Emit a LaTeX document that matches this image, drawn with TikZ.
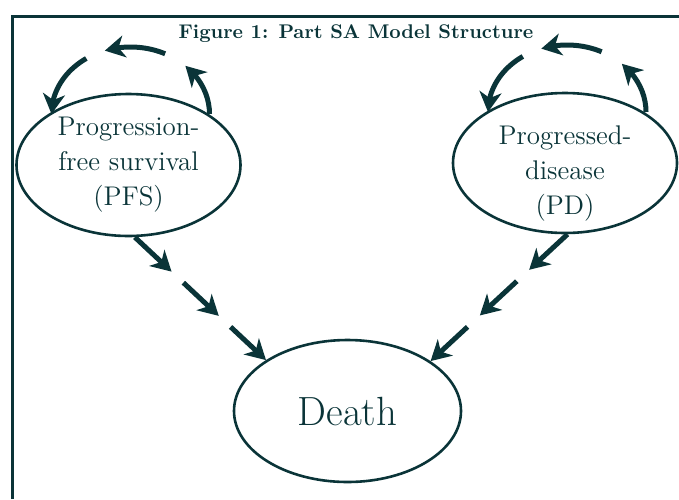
\documentclass[tikz,border=0pt]{standalone}
\usepackage{xcolor}
\usepackage{tikz}
\usetikzlibrary{shapes.geometric, arrows.meta, bending, calc}
\definecolor{ink}{HTML}{0A3438}
\tikzset{
    statebox/.style={ellipse, draw=ink, line width=1.3pt, inner sep=0pt,
                     text=ink, align=center,
                     font=\fontsize{13.5}{17.5}\selectfont},
    titletext/.style={text=ink, font=\bfseries\fontsize{9.9}{12}\selectfont},
    frame/.style={draw=ink, line width=1.5pt},
    arr/.style={-{Stealth[length=10pt, width=11pt, inset=3pt]},
                line width=2.5pt, draw=ink}
}
\begin{document}
\begin{tikzpicture}[x=0.5pt, y=0.5pt]
\useasboundingbox (0,0) rectangle (679,-499);
\draw[frame] (12,-499) -- (12,-16) -- (679,-16);

\node[titletext, anchor=base] at (356,-38) (title) {Figure 1: Part SA Model Structure};

\node[statebox, minimum width=112pt, minimum height=71pt] at (128.5,-165) (pfs)
    {Progression-\\free survival\\(PFS)};
\node[statebox, minimum width=112pt, minimum height=70pt,
      label={[text=ink, align=center, font=\fontsize{13.5}{17.5}\selectfont,
              yshift=-5.3pt]center:Progressed-\\disease\\(PD)}]
      at (565,-163) (pd) {};
\node[statebox, minimum width=113.5pt, minimum height=71pt,
      font=\fontsize{20.4}{24}\selectfont] at (347.5,-411) (death) {Death};

% self loops above the two states
\coordinate (pfsloop) at ($(pfs.center)+(2,51)$);
\coordinate (pdloop)  at ($(pd.center)+(2,51)$);
\coordinate (pfsl1) at ($(pfsloop)+(0:79 and 67)$);
\coordinate (pfsl2) at ($(pfsloop)+(64:79 and 67)$);
\coordinate (pfsl3) at ($(pfsloop)+(124:79 and 67)$);
\coordinate (pdl1)  at ($(pdloop)+(0:79 and 67)$);
\coordinate (pdl2)  at ($(pdloop)+(64:79 and 67)$);
\coordinate (pdl3)  at ($(pdloop)+(124:79 and 67)$);

\draw[arr] (pfsl1) arc[start angle=0,   end angle=46,  x radius=79, y radius=67];
\draw[arr] (pfsl2) arc[start angle=64,  end angle=109, x radius=79, y radius=67];
\draw[arr] (pfsl3) arc[start angle=124, end angle=180, x radius=79, y radius=67];
\draw[arr] (pdl1)  arc[start angle=0,   end angle=46,  x radius=79, y radius=67];
\draw[arr] (pdl2)  arc[start angle=64,  end angle=109, x radius=79, y radius=67];
\draw[arr] (pdl3)  arc[start angle=124, end angle=180, x radius=79, y radius=67];

% transitions to death
\path (pfs.-85) -- coordinate[pos=.28] (pfsd1) coordinate[pos=.37] (pfsd2)
                   coordinate[pos=.64] (pfsd3) coordinate[pos=.73] (pfsd4) (death.148);
\path (pd.-88)  -- coordinate[pos=.28] (pdd1) coordinate[pos=.37] (pdd2)
                   coordinate[pos=.64] (pdd3) coordinate[pos=.73] (pdd4) (death.31);

\draw[arr] (pfs.-85) -- (pfsd1);
\draw[arr] (pfsd2)   -- (pfsd3);
\draw[arr] (pfsd4)   -- (death.148);
\draw[arr] (pd.-88)  -- (pdd1);
\draw[arr] (pdd2)    -- (pdd3);
\draw[arr] (pdd4)    -- (death.31);
\end{tikzpicture}
\end{document}
